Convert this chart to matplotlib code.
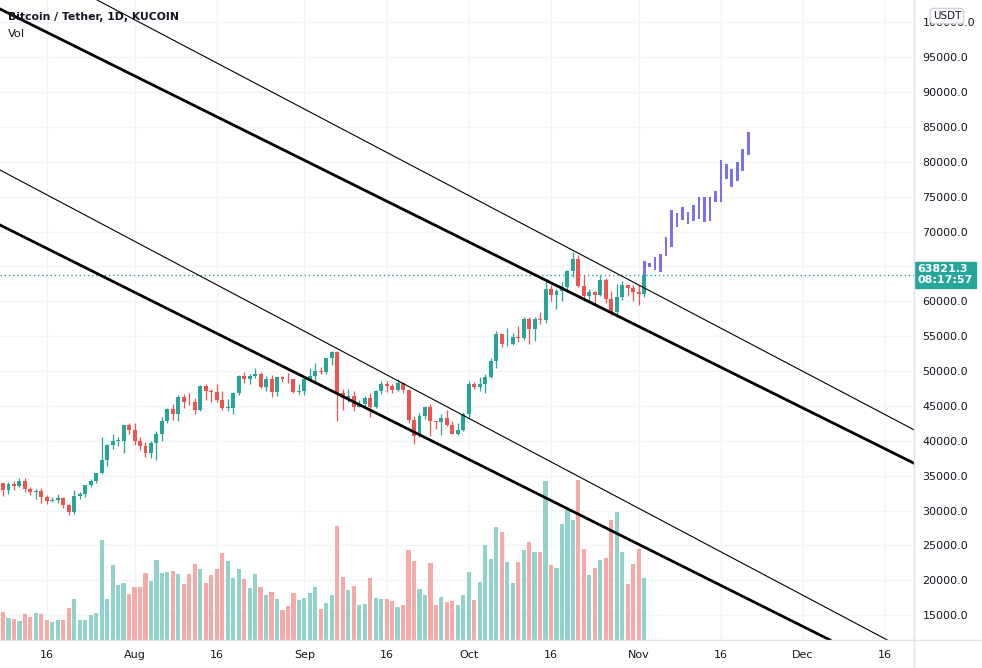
import matplotlib
matplotlib.use("Agg")
import matplotlib.pyplot as plt
import matplotlib.dates as mdates
import matplotlib.transforms as mtransforms
from matplotlib.lines import Line2D
import numpy as np
import pandas as pd

# daily candles, Jul 8 .. Nov 2 2021, prices in thousands USDT
dates = pd.date_range("2021-07-08", "2021-11-02", freq="D")

open_k = [33.9, 32.9, 33.8, 33.5, 34.3, 33.1, 32.7, 32.8, 31.9, 31.4, 31.5, 31.8, 30.8, 29.8, 32.1, 32.3,
          33.6, 34.3, 35.4, 37.3, 39.4, 40.0, 40.0, 42.2,
          41.6, 39.9, 39.2, 38.2, 39.7, 40.9, 42.8, 44.6, 43.8, 46.3, 45.6, 45.6, 44.4, 47.8, 47.1, 47.0,
          45.9, 44.7, 44.7, 46.8, 49.3, 48.9, 49.3, 49.5, 47.7, 48.9, 47.0, 49.1, 48.9, 48.8, 47.0,
          47.2, 48.8, 49.3, 50.0, 49.9, 51.8, 52.7, 46.9, 46.1, 46.4, 44.9, 45.2, 46.1, 44.9, 47.1,
          48.2, 47.8, 47.3, 48.3, 47.3, 43.0, 40.7, 43.6, 44.9, 42.8, 42.7, 43.2, 42.2, 41.0, 41.5,
          43.8, 48.1, 47.7, 48.2, 49.1, 51.5, 55.3, 53.8, 53.9, 54.9, 54.7, 57.5, 56.0, 57.4, 57.3,
          61.7, 60.9, 61.5, 62.0, 64.3, 66.0, 62.2, 60.7, 61.3, 60.9, 63.1, 60.3, 58.5, 60.6, 62.3, 61.9,
          61.3, 61.0]
high_k = [34.0, 34.1, 34.3, 34.6, 34.7, 33.3, 33.1, 33.2, 32.2, 31.9, 32.4, 31.9, 31.0, 32.9, 32.6, 33.7,
          34.5, 35.4, 40.6, 39.5, 40.9, 40.6, 42.3, 42.6,
          42.6, 40.5, 39.8, 39.9, 41.4, 43.4, 44.7, 45.3, 46.5, 46.7, 46.8, 46.2, 48.0, 48.2, 47.4, 48.1,
          47.2, 46.0, 47.0, 49.4, 49.8, 49.5, 50.5, 49.9, 49.3, 49.4, 49.2, 49.3, 49.7, 48.9, 48.2,
          49.0, 50.4, 51.1, 50.6, 51.9, 52.9, 52.9, 47.4, 47.4, 47.1, 45.9, 46.4, 46.9, 47.3, 48.5,
          48.5, 48.2, 48.8, 48.4, 47.3, 43.6, 44.0, 45.0, 45.2, 42.9, 43.9, 44.4, 42.8, 42.6, 44.1,
          48.5, 48.4, 49.2, 49.5, 51.9, 55.8, 55.3, 56.1, 55.5, 56.5, 57.8, 57.7, 57.8, 58.5, 62.9,
          62.4, 61.7, 62.7, 64.5, 67.0, 66.6, 63.7, 61.7, 61.5, 63.7, 63.3, 61.5, 62.5, 62.9, 62.4, 62.4,
          62.4, 64.3]
low_k = [32.1, 32.3, 33.0, 33.3, 32.7, 32.2, 31.6, 31.1, 31.0, 31.2, 31.1, 30.4, 29.3, 29.5, 31.7, 32.0,
         33.4, 33.9, 35.2, 36.4, 38.8, 39.2, 38.3, 41.0,
         39.4, 38.7, 37.6, 37.5, 37.3, 39.9, 42.5, 43.0, 42.8, 44.7, 45.1, 43.8, 44.2, 45.9, 45.5, 45.6,
         44.4, 44.2, 43.9, 46.6, 48.3, 48.1, 49.0, 47.6, 47.2, 46.3, 46.4, 48.4, 48.3, 46.9, 46.7,
         46.5, 48.6, 48.4, 49.5, 49.5, 50.9, 42.8, 44.4, 45.5, 44.2, 44.8, 44.7, 43.4, 44.7, 46.7,
         47.0, 46.8, 47.1, 46.8, 42.5, 39.6, 40.6, 43.1, 40.7, 41.7, 40.8, 42.1, 40.9, 40.8, 41.4,
         43.3, 47.4, 47.1, 46.9, 49.0, 50.4, 53.4, 53.6, 53.7, 54.1, 54.4, 53.9, 54.3, 56.8, 56.9,
         60.1, 58.9, 60.0, 61.3, 63.5, 62.0, 60.0, 59.7, 59.5, 60.7, 59.8, 58.0, 57.8, 60.2, 60.8, 60.0,
         59.4, 60.6]
close_k = [32.9, 33.8, 33.5, 34.3, 33.1, 32.7, 32.8, 31.9, 31.4, 31.5, 31.8, 30.8, 29.8, 32.1, 32.3, 33.6,
           34.3, 35.4, 37.3, 39.4, 40.0, 40.05, 42.2, 41.6,
           39.9, 39.2, 38.2, 39.7, 40.9, 42.8, 44.6, 43.8, 46.3, 45.6, 45.5, 44.4, 47.8, 47.1, 47.0, 45.9,
           44.7, 44.8, 46.8, 49.3, 48.9, 49.3, 49.5, 47.7, 48.9, 47.0, 49.1, 48.9, 48.8, 47.0, 47.2,
           48.8, 49.3, 50.0, 49.9, 51.8, 52.7, 46.9, 46.1, 46.4, 44.9, 45.2, 46.1, 44.9, 47.1, 48.2,
           47.8, 47.3, 48.3, 47.3, 43.0, 40.7, 43.6, 44.9, 42.8, 42.7, 43.2, 42.2, 41.0, 41.5, 43.8,
           48.1, 47.7, 48.2, 49.1, 51.5, 55.3, 53.8, 53.9, 54.9, 54.7, 57.5, 56.0, 57.4, 57.3, 61.7,
           60.9, 61.5, 62.0, 64.3, 66.0, 62.2, 60.7, 61.3, 60.9, 63.1, 60.3, 58.5, 60.6, 62.3, 61.9, 61.3,
           61.0, 63.8213]

# volume, relative units
volume = [28, 22, 21, 19, 26, 23, 27, 26, 20, 18, 20, 20, 32, 41, 20, 20, 25, 27, 100, 41, 75, 55, 57, 46,
          53, 53, 67, 59, 80, 67, 68, 69, 66, 56, 66, 76, 71, 57, 65, 71, 87, 79, 62, 71, 61, 52, 66, 53,
          45, 48, 41, 30, 34, 47, 40,
          42, 47, 53, 31, 37, 45, 114, 63, 50, 54, 35, 36, 62, 42, 41, 41, 39, 33, 35, 90, 79, 51, 45,
          77, 35, 43, 38, 39, 35, 45,
          68, 40, 58, 95, 81, 113, 108, 78, 57, 78, 90, 98, 88, 88, 159, 75, 72, 116, 130, 120, 160, 91,
          65, 72, 80, 82, 120, 128, 88, 56, 76,
          91, 62]

# projected bars pattern, Nov 2 .. Nov 21
proj_dates = pd.date_range("2021-11-02", "2021-11-21", freq="D")
proj_high_k = [65.8, 65.5, 66.3, 66.8, 69.2, 73.1, 72.6, 73.5, 72.8, 73.8, 74.9, 74.9, 74.9, 75.8, 80.2,
               79.7, 78.9, 80.0, 81.8, 84.2]
proj_low_k = [63.8, 64.9, 64.5, 64.2, 66.5, 67.8, 70.6, 71.6, 71.1, 71.5, 71.8, 71.4, 71.5, 74.2, 74.2,
              77.5, 76.4, 77.2, 78.7, 81.0]

last_price = 63821.3
countdown = "08:17:57"

# trend lines: two anchor points each (date, price)
trend_lines = [
    (("2021-07-08", 101685), ("2021-12-05", 43118), 2.0),  # upper thick
    (("2021-08-07", 97886), ("2021-12-05", 48280), 0.8),   # upper thin
    (("2021-07-08", 78590), ("2021-12-05", 16165), 0.8),   # lower thin
    (("2021-07-08", 70717), ("2021-12-05", 11793), 2.0),   # lower thick
]

tick_dates = ["2021-07-16", "2021-08-01", "2021-08-16", "2021-09-01", "2021-09-16", "2021-10-01",
              "2021-10-16", "2021-11-01", "2021-11-16", "2021-12-01", "2021-12-16"]
tick_labels = ["16", "Aug", "16", "Sep", "16", "Oct", "16", "Nov", "16", "Dec", "16"]
price_ticks = list(range(15000, 100001, 5000))

up_col = "#26a69a"
down_col = "#ef5350"
vol_up = "#92d2cc"
vol_down = "#f7a9a7"
proj_col = "#7b70ee"
grid_col = "#f2f4f9"
text_col = "#131722"

o = np.array(open_k) * 1000
h = np.array(high_k) * 1000
l = np.array(low_k) * 1000
c = np.array(close_k) * 1000
x = mdates.date2num(dates.to_pydatetime())
px = mdates.date2num(proj_dates.to_pydatetime())
up = c >= o

plt.rcParams["font.family"] = ["DejaVu Sans"]

fig = plt.figure(figsize=(9.82, 6.68), dpi=100)
rect = [0, 28 / 668, 914 / 982, 640 / 668]
ax = fig.add_axes(rect)
axv = fig.add_axes(rect, sharex=ax)
axp = fig.add_axes(rect, sharex=ax, sharey=ax)

x0 = mdates.date2num(pd.Timestamp("2021-07-08"))
ax.set_xlim(x0 - 0.55, x0 + 166.24)
ax.set_ylim(11434, 103190)

# grid + axes
ax.set_xticks(mdates.date2num(pd.to_datetime(tick_dates).to_pydatetime()))
ax.set_xticklabels(tick_labels)
ax.set_yticks(price_ticks)
ax.set_yticklabels([f"{p:.1f}" for p in price_ticks])
ax.yaxis.tick_right()
ax.tick_params(axis="both", length=0, labelsize=8, labelcolor=text_col)
ax.tick_params(axis="y", pad=6)
ax.tick_params(axis="x", pad=7)
ax.grid(True, color=grid_col, linewidth=1)
for s in ax.spines.values():
    s.set_visible(False)

# volume
axv.bar(x, volume, width=0.76, color=np.where(up, vol_up, vol_down), zorder=2)
axv.set_ylim(0, 640)
axv.axis("off")
axv.patch.set_visible(False)

# candles, lines
axp.axis("off")
axp.patch.set_visible(False)
cols = np.where(up, up_col, down_col)
axp.vlines(x, l, h, colors=cols, linewidth=0.9, zorder=3)
body = np.maximum(np.abs(c - o), 120)
axp.bar(x, body, bottom=np.minimum(o, c), width=0.72, color=cols, zorder=4)
axp.bar(px, np.array(proj_high_k) * 1000 - np.array(proj_low_k) * 1000,
        bottom=np.array(proj_low_k) * 1000, width=0.5, color=proj_col, zorder=5)

for (d1, p1), (d2, p2), lw in trend_lines:
    axp.axline((mdates.date2num(pd.Timestamp(d1)), p1), (mdates.date2num(pd.Timestamp(d2)), p2),
               color="black", linewidth=lw, zorder=6)

axp.axhline(last_price, color=up_col, linestyle=(0, (1, 2)), linewidth=1, zorder=2)

trans = mtransforms.blended_transform_factory(ax.transAxes, ax.transData)
ax.text(1.004, last_price, f"{last_price:.1f}\n{countdown}", transform=trans, ha="left", va="center",
        color="white", fontsize=8, fontweight="bold", linespacing=1.05, clip_on=False,
        bbox=dict(boxstyle="square,pad=0.25", fc=up_col, ec=up_col), zorder=10)

# separators
fig.add_artist(Line2D([914 / 982, 914 / 982], [0, 1], color="#e0e3eb", linewidth=1))
fig.add_artist(Line2D([0, 1], [28 / 668, 28 / 668], color="#e0e3eb", linewidth=1))

fig.text(947 / 982, 1 - 16 / 668, "USDT", ha="center", va="center", fontsize=7.5, color=text_col,
         bbox=dict(boxstyle="round,pad=0.25,rounding_size=0.3", fc="white", ec="#d1d4dc"), zorder=10)
fig.text(8 / 982, 1 - 17 / 668, "Bitcoin / Tether, 1D, KUCOIN", ha="left", va="center", fontsize=7.8,
         fontweight="bold", color=text_col)
fig.text(8 / 982, 1 - 34 / 668, "Vol", ha="left", va="center", fontsize=8.2, color=text_col)

fig.savefig("out.png", dpi=100)
